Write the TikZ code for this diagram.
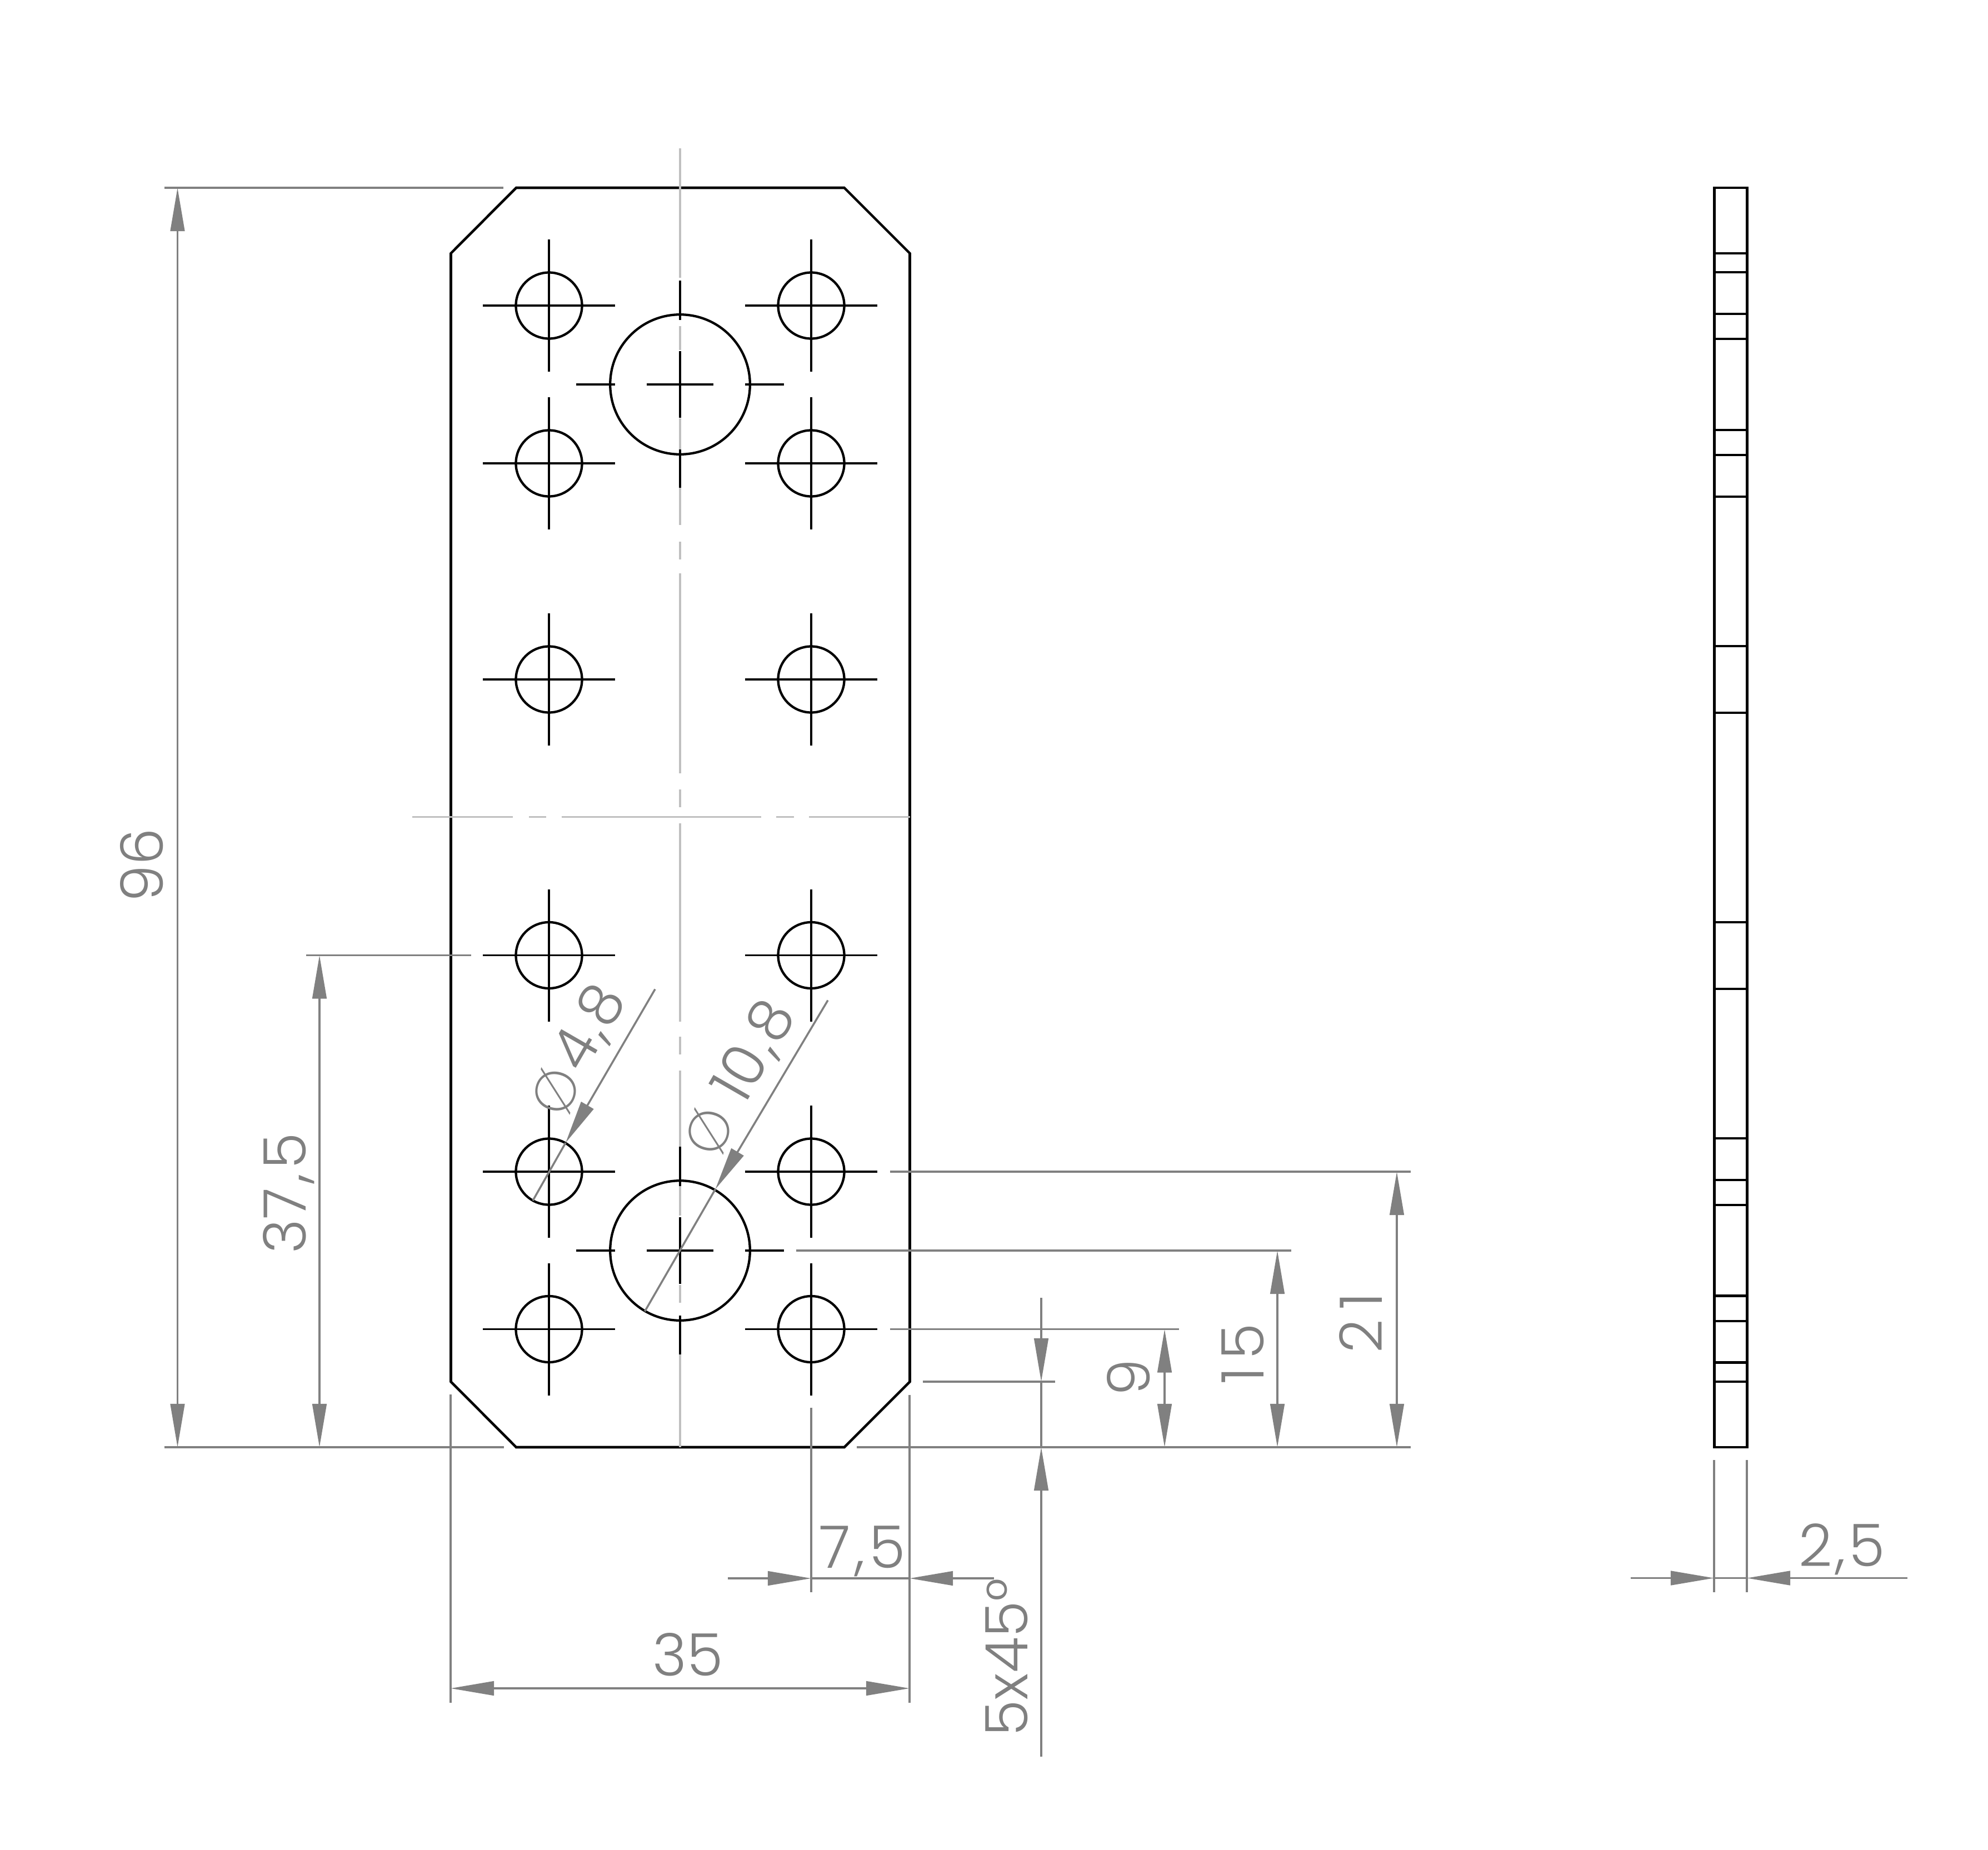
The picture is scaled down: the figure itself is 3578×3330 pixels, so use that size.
\documentclass[tikz,border=0pt]{standalone}
\usepackage{fontspec}
\usetikzlibrary{arrows.meta}
\setmainfont{Poppins Light}
\newfontfamily\phifont{Poppins ExtraLight}
\definecolor{dimgray}{HTML}{808080}
\definecolor{axisgray}{HTML}{C0C0C0}
\tikzset{
  outline/.style={black,line width=1.3pt,line join=miter},
  holeline/.style={black,line width=1.22pt},
  crossline/.style={black,line width=1.0pt},
  axisline/.style={axisgray,line width=1.1pt},
  dimline/.style={dimgray,line width=1.08pt},
  leader/.style={dimgray,line width=1pt},
  tipend/.style={-{Triangle[length=22.2pt,width=7.2pt]}},
  tipboth/.style={{Triangle[length=22.2pt,width=7.2pt]}-{Triangle[length=22.2pt,width=7.2pt]}},
  dimtext/.style={text=dimgray,inner sep=0pt,text height=23.5pt,text depth=0pt,font=\fontsize{30}{30}\selectfont},
  phitext/.style={text=dimgray,inner sep=0pt,font=\phifont\fontsize{29}{29}\selectfont},
}
\newcommand{\smallhole}[2]{%
  \draw[holeline] (#1,#2) circle[radius=59.5];
  \draw[crossline] (#1-119,#2) -- (#1+119,#2) (#1,#2-119) -- (#1,#2+119);
}
\newcommand{\bighole}[2]{%
  \draw[holeline] (#1,#2) circle[radius=125.8];
  \draw[crossline] (#1-60,#2) -- (#1+60,#2) (#1,#2-60) -- (#1,#2+60);
  \draw[crossline] (#1-187,#2) -- (#1-117,#2) (#1+117,#2) -- (#1+187,#2);
  \draw[crossline] (#1,#2-187) -- (#1,#2-116) (#1,#2+117) -- (#1,#2+187);
}
\newcommand{\dimcomma}[1]{\kern#1,\kern#1}
\begin{document}
\begin{tikzpicture}[x=0.01cm,y=-0.01cm]
\useasboundingbox (0,0) rectangle (3578,3330);
% plate
\draw[outline] (929,338) -- (1519.5,338) -- (1637.5,456) -- (1637.5,2487) -- (1519.5,2605) -- (929,2605) -- (811.5,2487) -- (811.5,456) -- cycle;
\foreach \yy in {550,834,1223,1719.5,2109,2392.5}{
  \smallhole{988}{\yy}
  \smallhole{1460}{\yy}
}
\bighole{1224}{692}
\bighole{1224}{2251}
% side view
\draw[outline] (3085.5,338) rectangle (3144.5,2605);
\foreach \yy in {456,490,610,565,819,774,894,1163,1283,1660,1780,2049,2169,2124,2378,2332.5,2452.5,2487}{
  \draw[holeline] (3085.5,\yy) -- (3144.5,\yy);
}
% axes
\draw[axisline] (1224,267) -- (1224,500) (1224,587) -- (1224,630) (1224,752.5) -- (1224,809)
  (1224,878) -- (1224,945) (1224,974.5) -- (1224,1006.5) (1224,1032) -- (1224,1392)
  (1224,1421) -- (1224,1453) (1224,1481.5) -- (1224,1838.5) (1224,1866) -- (1224,1898)
  (1224,1926.5) -- (1224,2064) (1224,2135) -- (1224,2188) (1224,2313) -- (1224,2345) (1224,2437.5) -- (1224,2605);
\draw[axisline] (742,1470.5) -- (923,1470.5) (952,1470.5) -- (982.5,1470.5) (1010.5,1470.5) -- (1369.5,1470.5)
  (1397,1470.5) -- (1429,1470.5) (1456,1470.5) -- (1637.5,1470.5);
% extension lines
\draw[dimline] (295.5,338) -- (906,338) (295.5,2605) -- (906.5,2605);
\draw[dimline] (550.5,1719.5) -- (847.5,1719.5);
\draw[dimline] (1601.5,2109) -- (2539,2109) (1432.5,2251) -- (2324,2251) (1601.5,2392.5) -- (2121.5,2392.5);
\draw[dimline] (1660.5,2487) -- (1898.5,2487) (1542,2605) -- (2539,2605);
\draw[dimline] (811,2510) -- (811,3065) (1637,2510.5) -- (1637,3065) (1460,2533.5) -- (1460,2865.5);
\draw[dimline] (3085,2628) -- (3085,2866) (3144,2628) -- (3144,2866);
% dimension lines
\draw[dimline,fill=dimgray,tipboth] (319.5,2605) -- (319.5,338);
\draw[dimline,fill=dimgray,tipboth] (575,2605) -- (575,1719.5);
\draw[dimline,fill=dimgray,tipboth] (2096,2605) -- (2096,2392.5);
\draw[dimline,fill=dimgray,tipboth] (2299,2605) -- (2299,2251);
\draw[dimline,fill=dimgray,tipboth] (2514,2605) -- (2514,2109);
\draw[dimline,fill=dimgray,tipboth] (811,3039) -- (1637,3039);
\draw[dimline,fill=dimgray,tipend] (1874,2336) -- (1874,2487);
\draw[dimline,fill=dimgray,tipend] (1874,3162) -- (1874,2605);
\draw[dimline] (1874,2487) -- (1874,2605);
\draw[dimline,fill=dimgray,tipend] (1310,2841) -- (1460,2841);
\draw[dimline,fill=dimgray,tipend] (1789,2841) -- (1637,2841);
\draw[dimline] (1460,2841) -- (1637,2841);
\draw[dimline,fill=dimgray,tipend] (2934.5,2840.5) -- (3085,2840.5);
\draw[dimline,fill=dimgray,tipend] (3432.5,2840.5) -- (3144,2840.5);
\draw[dimline] (3085,2840.5) -- (3144,2840.5);
% diameter leaders
\draw[leader,fill=dimgray,tipend] (1179,1780.5) -- (1018,2057);
\draw[leader] (1018,2057) -- (959,2161);
\draw[leader,fill=dimgray,tipend] (1490,1800.5) -- (1287.5,2140.5);
\draw[leader] (1287.5,2140.5) -- (1160.5,2360.5);
% texts
\node[dimtext,rotate=90] (t96) at (252,1557) {96};
\node[dimtext,rotate=90] (t375) at (509,2148) {37\dimcomma{2.2pt}5};
\node[dimtext] (t35) at (1238,2975) {35};
\node[dimtext] (t75) at (1552,2781) {7\dimcomma{2.2pt}5};
\node[dimtext,rotate=90] (t545) at (1808,2983) {5x45°};
\node[dimtext,rotate=90] (t9) at (2028,2480) {9};
\node[dimtext,rotate=90] (t15) at (2233,2437) {1\kern3.9pt5};
\node[dimtext,rotate=90] (t21) at (2446,2381) {2\kern4.8pt1};
\node[dimtext] (t25) at (3315,2778) {2\dimcomma{1.5pt}5};
\node[dimtext,rotate=60] (t48) at (1054,1846) {4\dimcomma{1.2pt}8};
\node[dimtext,rotate=60] (t108) at (1351,1888) {10\dimcomma{1.5pt}8};
\node[phitext,rotate=75] (p48) at (1000,1964) {Ø};
\node[phitext,rotate=75] (p108) at (1276.5,2036) {Ø};
\end{tikzpicture}
\end{document}
